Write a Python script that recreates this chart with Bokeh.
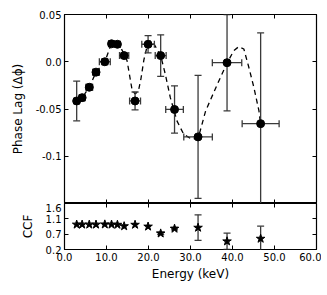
import numpy as np
from bokeh.plotting import figure
from bokeh.layouts import column
from bokeh.models import (LinearAxis, FixedTicker, CustomJSTickFormatter, Range1d,
                          ColumnDataSource)
from bokeh.embed import file_html
from bokeh.resources import INLINE

# ---- data ----
energy = [2.9, 4.2, 5.9, 7.5, 9.6, 11.2, 12.6, 14.2, 16.8, 19.9, 22.9, 26.2, 31.8, 38.7, 46.7]
energy_err = [0.6, 0.6, 0.8, 0.8, 1.3, 0.7, 0.7, 1.1, 1.3, 1.5, 1.3, 2.1, 3.4, 3.5, 4.4]
lag = [-0.0415, -0.038, -0.027, -0.011, 0.0, 0.019, 0.0185, 0.0065, -0.0415, 0.0185,
       0.0065, -0.0505, -0.0795, -0.001, -0.0655]
lag_err = [0.021, 0.003, 0.003, 0.003, 0.003, 0.002, 0.002, 0.003, 0.0095, 0.0092,
           0.022, 0.025, 0.065, 0.051, 0.096]
ccf = [0.96, 0.96, 0.96, 0.96, 0.965, 0.96, 0.955, 0.91, 0.955, 0.90, 0.69, 0.835,
       0.865, 0.45, 0.53]
ccf_err = [0, 0, 0, 0, 0, 0, 0, 0, 0, 0, 0.04, 0.04, 0.39, 0.25, 0.38]

curve_energy = [2.9, 4.2, 5.9, 7.5, 9.6, 11.0, 11.5, 12.9, 14.4, 14.9, 16.1, 16.8, 17.6,
                18.2, 18.9, 19.8, 20.4, 21.1, 22.9, 24.0, 25.2, 26.8, 28.4, 30.4, 31.9,
                33.6, 36.4, 38.7, 40.3, 41.5, 42.7, 43.9, 45.1, 46.3, 46.7]
curve_lag = [-0.0415, -0.038, -0.027, -0.011, 0.0, 0.017, 0.019, 0.019, 0.0064, 0.001,
             -0.030, -0.034, -0.031, -0.018, 0.002, 0.0188, 0.0218, 0.0205, 0.0064,
             -0.0131, -0.038, -0.0628, -0.0769, -0.0822, -0.0798, -0.0521, -0.0237,
             -0.0014, 0.0117, 0.016, 0.0135, -0.0061, -0.0273, -0.0521, -0.0663]

x_ticks = [0, 10, 20, 30, 40, 50, 60]
lag_ticks = [-0.1, -0.05, 0.0, 0.05]
ccf_ticks = list(np.linspace(0.2, 1.6, 4))

FONT = "DejaVu Sans"
ECOL = "#3a3a3a"

E = np.array(energy); Ee = np.array(energy_err)
L = np.array(lag); Le = np.array(lag_err)
C = np.array(ccf); Ce = np.array(ccf_err)

src = ColumnDataSource(dict(e=E, l=L, lo=L - Le, hi=L + Le, el=E - Ee, eh=E + Ee, c=C))


def style(ax, labels=True):
    ax.major_tick_in = 4
    ax.major_tick_out = 0
    ax.major_tick_line_width = 1
    ax.major_tick_line_color = "black"
    ax.minor_tick_line_color = None
    ax.axis_line_color = None
    ax.major_label_text_font = FONT
    ax.major_label_text_font_size = "10px"
    ax.major_label_text_color = "#000000"
    ax.axis_label_text_font = FONT
    ax.axis_label_text_font_size = "12px"
    ax.axis_label_text_font_style = "normal"
    ax.axis_label_text_color = "#000000"
    ax.major_label_standoff = 3
    if not labels:
        ax.major_label_text_font_size = "1px"
        ax.major_label_text_color = None
        ax.major_label_standoff = 0


xr = Range1d(0, 60)
xfmt = CustomJSTickFormatter(code="return tick.toFixed(1)")
lagfmt = CustomJSTickFormatter(code="return tick.toFixed(2).replace(/0$/, '')")
ccffmt = CustomJSTickFormatter(code="return tick.toFixed(1)")

# ---- top panel ----
p1 = figure(width=321, height=203, x_range=xr, y_range=Range1d(-0.15, 0.05),
            output_backend="svg", toolbar_location=None,
            x_axis_location=None, y_axis_location=None,
            min_border_left=64, min_border_right=5, min_border_top=14, min_border_bottom=0)
p1.outline_line_color = "black"
p1.outline_line_width = 1.2
p1.xgrid.visible = False
p1.ygrid.visible = False

ax = LinearAxis(ticker=FixedTicker(ticks=lag_ticks), formatter=lagfmt,
                axis_label="Phase Lag (Δϕ)")
style(ax); ax.axis_label_standoff = 8
p1.add_layout(ax, "left")
ax = LinearAxis(ticker=FixedTicker(ticks=lag_ticks)); style(ax, False)
p1.add_layout(ax, "right")
for loc in ("above", "below"):
    ax = LinearAxis(ticker=FixedTicker(ticks=x_ticks)); style(ax, False)
    p1.add_layout(ax, loc)

p1.line(curve_energy, curve_lag, line_color="black", line_width=1.3, line_dash="5 4")
p1.segment(x0="e", y0="lo", x1="e", y1="hi", source=src, line_color=ECOL, line_width=1.3)
p1.segment(x0="el", y0="l", x1="eh", y1="l", source=src, line_color=ECOL, line_width=1.3)
p1.scatter(x="e", y="lo", source=src, marker="dash", size=7, line_color=ECOL, line_width=1.3)
p1.scatter(x="e", y="hi", source=src, marker="dash", size=7, line_color=ECOL, line_width=1.3)
p1.scatter(x="el", y="l", source=src, marker="dash", size=7, angle=np.pi / 2,
           line_color=ECOL, line_width=1.3)
p1.scatter(x="eh", y="l", source=src, marker="dash", size=7, angle=np.pi / 2,
           line_color=ECOL, line_width=1.3)
p1.scatter(x="e", y="l", source=src, size=8, fill_color="black", line_color="black")

# ---- bottom panel ----
p2 = figure(width=321, height=86, x_range=xr, y_range=Range1d(0.2, 1.6),
            output_backend="svg", toolbar_location=None,
            x_axis_location=None, y_axis_location=None,
            min_border_left=64, min_border_right=5, min_border_top=0, min_border_bottom=40)
p2.outline_line_color = "black"
p2.outline_line_width = 1.2
p2.xgrid.visible = False
p2.ygrid.visible = False

ax = LinearAxis(ticker=FixedTicker(ticks=ccf_ticks), formatter=ccffmt, axis_label="CCF")
style(ax); ax.axis_label_standoff = 8
p2.add_layout(ax, "left")
ax = LinearAxis(ticker=FixedTicker(ticks=ccf_ticks)); style(ax, False)
p2.add_layout(ax, "right")
ax = LinearAxis(ticker=FixedTicker(ticks=x_ticks)); style(ax, False)
p2.add_layout(ax, "above")
ax = LinearAxis(ticker=FixedTicker(ticks=x_ticks), formatter=xfmt, axis_label="Energy (keV)")
style(ax); ax.axis_label_standoff = 3
p2.add_layout(ax, "below")

m = Ce > 0
esrc = ColumnDataSource(dict(e=E[m], lo=(C - Ce)[m], hi=(C + Ce)[m]))
p2.segment(x0="e", y0="lo", x1="e", y1="hi", source=esrc, line_color=ECOL, line_width=1.3)
p2.scatter(x="e", y="lo", source=esrc, marker="dash", size=7, line_color=ECOL, line_width=1.3)
p2.scatter(x="e", y="hi", source=esrc, marker="dash", size=7, line_color=ECOL, line_width=1.3)
p2.scatter(x="e", y="c", source=src, marker="star", size=9, fill_color="black",
           line_color="black")

layout = column(p1, p2, spacing=0)
open("out.html", "w").write(file_html(layout, INLINE))
